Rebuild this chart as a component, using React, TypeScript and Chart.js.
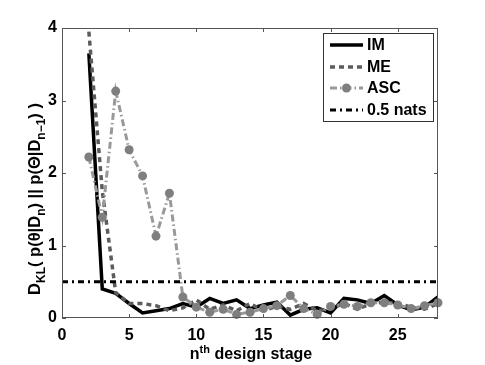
import React, { useEffect, useRef } from "react";
import { Chart, registerables } from "chart.js";

Chart.register(...registerables);

const stages = [2, 3, 4, 5, 6, 7, 8, 9, 10, 11, 12, 13, 14, 15, 16, 17, 18, 19, 20, 21, 22, 23, 24, 25, 26, 27, 28];
const imValues = [3.65, 0.4, 0.34, 0.2, 0.07, 0.1, 0.13, 0.2, 0.15, 0.27, 0.2, 0.25, 0.13, 0.18, 0.22, 0.04, 0.12, 0.14, 0.07, 0.27, 0.25, 0.2, 0.31, 0.18, 0.11, 0.15, 0.29];
const meValues = [3.95, 1.75, 0.35, 0.2, 0.2, 0.17, 0.1, 0.14, 0.25, 0.12, 0.18, 0.1, 0.2, 0.1, 0.16, 0.12, 0.2, 0.1, 0.13, 0.2, 0.12, 0.2, 0.22, 0.2, 0.15, 0.12, 0.2];
const ascValues = [2.22, 1.39, 3.13, 2.32, 1.96, 1.13, 1.72, 0.29, 0.15, 0.08, 0.12, 0.05, 0.08, 0.13, 0.17, 0.31, 0.13, 0.05, 0.16, 0.19, 0.16, 0.21, 0.21, 0.18, 0.13, 0.17, 0.21];
const thresholdX = [0, 28];
const thresholdY = [0.5, 0.5];
const xTicks = [0, 5, 10, 15, 20, 25];
const yTicks = [0, 1, 2, 3, 4];
const legendLabels = ["IM", "ME", "ASC", "0.5 nats"];

const FONT = '"Liberation Sans", Arial, Helvetica, sans-serif';
const ME_COLOR = "#5c5c5c";
const ASC_COLOR = "#999999";
const ASC_MARK = "#7f7f7f";

type Seg = { t: string; sub?: boolean; sup?: boolean };

function drawRich(ctx: CanvasRenderingContext2D, segs: Seg[], x: number, y: number, size: number) {
  const base = `bold ${size}px ${FONT}`;
  const small = `bold ${Math.round(size * 0.7)}px ${FONT}`;
  let w = 0;
  for (const s of segs) {
    ctx.font = s.sub || s.sup ? small : base;
    w += ctx.measureText(s.t).width;
  }
  let cx = x - w / 2;
  ctx.textAlign = "left";
  ctx.textBaseline = "alphabetic";
  for (const s of segs) {
    ctx.font = s.sub || s.sup ? small : base;
    const dy = s.sub ? size * 0.3 : s.sup ? -size * 0.4 : 0;
    ctx.fillText(s.t, cx, y + dy);
    cx += ctx.measureText(s.t).width;
  }
}

const decorPlugin = {
  id: "decor",
  afterDraw(chart: any) {
    const ctx: CanvasRenderingContext2D = chart.ctx;
    const { left, right, top, bottom } = chart.chartArea;
    const xs = chart.scales.x;
    const ys = chart.scales.y;
    ctx.save();
    // frame
    ctx.strokeStyle = "#555";
    ctx.lineWidth = 1;
    ctx.setLineDash([]);
    ctx.strokeRect(left + 0.5, top + 0.5, right - left - 1, bottom - top - 1);
    // inward ticks
    ctx.beginPath();
    for (const v of xTicks) {
      const px = Math.round(xs.getPixelForValue(v)) + 0.5;
      ctx.moveTo(px, bottom);
      ctx.lineTo(px, bottom - 4);
      ctx.moveTo(px, top);
      ctx.lineTo(px, top + 4);
    }
    for (const v of yTicks) {
      const py = Math.round(ys.getPixelForValue(v)) + 0.5;
      ctx.moveTo(left, py);
      ctx.lineTo(left + 4, py);
      ctx.moveTo(right, py);
      ctx.lineTo(right - 4, py);
    }
    ctx.stroke();

    ctx.fillStyle = "#000";
    // x title
    drawRich(ctx, [{ t: "n" }, { t: "th", sup: true }, { t: " design stage" }], (left + right) / 2 + 1, 359, 16);
    // y title
    ctx.save();
    ctx.translate(40, (top + bottom) / 2 + 26);
    ctx.rotate(-Math.PI / 2);
    drawRich(
      ctx,
      [
        { t: "D" },
        { t: "KL", sub: true },
        { t: "( p(θ|D" },
        { t: "n", sub: true },
        { t: ") || p(Θ|D" },
        { t: "n−1", sub: true },
        { t: ") )" },
      ],
      0,
      0,
      16.5
    );
    ctx.restore();

    // legend
    const bx = 323.5, by = 33.5, bw = 110, bh = 88;
    ctx.fillStyle = "#fff";
    ctx.fillRect(bx, by, bw, bh);
    ctx.strokeStyle = "#333";
    ctx.lineWidth = 1;
    ctx.strokeRect(bx, by, bw, bh);
    const rows = [45, 67, 88, 110];
    const styles = [
      { color: "#000", width: 3.5, dash: [] as number[], marker: false },
      { color: ME_COLOR, width: 3.5, dash: [5, 4], marker: false },
      { color: ASC_COLOR, width: 3, dash: [7, 3, 1.5, 3], marker: true },
      { color: "#000", width: 3, dash: [6, 4, 2, 4], marker: false },
    ];
    legendLabels.forEach((label, i) => {
      const st = styles[i];
      const y = rows[i];
      ctx.strokeStyle = st.color;
      ctx.lineWidth = st.width;
      ctx.setLineDash(st.dash);
      ctx.beginPath();
      ctx.moveTo(330, y);
      ctx.lineTo(363, y);
      ctx.stroke();
      ctx.setLineDash([]);
      if (st.marker) {
        ctx.fillStyle = ASC_MARK;
        ctx.beginPath();
        ctx.arc(346.5, y, 4.5, 0, Math.PI * 2);
        ctx.fill();
      }
      ctx.fillStyle = "#000";
      ctx.font = `bold 16px ${FONT}`;
      ctx.textAlign = "left";
      ctx.textBaseline = "middle";
      ctx.fillText(label, 367, y + 1);
    });
    ctx.restore();
  },
};

export default function App() {
  const ref = useRef<HTMLCanvasElement | null>(null);
  useEffect(() => {
    document.body.style.margin = "0";
    const canvas = ref.current;
    if (!canvas) return;
    const toPts = (vals: number[]) => stages.map((x, i) => ({ x, y: vals[i] }));
    const chart = new Chart(canvas, {
      type: "line",
      data: {
        datasets: [
          {
            label: legendLabels[0],
            data: toPts(imValues),
            borderColor: "#000",
            borderWidth: 3.5,
            pointRadius: 0,
            tension: 0,
            order: 3,
          },
          {
            label: legendLabels[1],
            data: toPts(meValues),
            borderColor: ME_COLOR,
            borderWidth: 3.5,
            borderDash: [5, 4],
            pointRadius: 0,
            tension: 0,
            order: 2,
          },
          {
            label: legendLabels[2],
            data: toPts(ascValues),
            borderColor: ASC_COLOR,
            borderWidth: 3,
            borderDash: [7, 3, 1.5, 3],
            pointRadius: 4.5,
            pointBackgroundColor: ASC_MARK,
            pointBorderWidth: 0,
            tension: 0,
            order: 1,
            clip: 6,
          },
          {
            label: legendLabels[3],
            data: thresholdX.map((x, i) => ({ x, y: thresholdY[i] })),
            borderColor: "#000",
            borderWidth: 3,
            borderDash: [6, 4, 2, 4],
            pointRadius: 0,
            order: 0,
          },
        ] as any,
      },
      options: {
        responsive: false,
        animation: false,
        layout: { padding: { top: 28, right: 47, left: 0, bottom: 0 } },
        plugins: { legend: { display: false }, tooltip: { enabled: false } },
        scales: {
          x: {
            type: "linear",
            min: 0,
            max: 28,
            grid: { display: false, drawTicks: false },
            border: { display: false },
            afterBuildTicks: (s: any) => {
              s.ticks = xTicks.map((v) => ({ value: v }));
            },
            afterFit: (s: any) => {
              s.height = 47;
            },
            ticks: {
              color: "#000",
              padding: 8,
              maxRotation: 0,
              font: { family: FONT, size: 16, weight: "bold" },
            },
          },
          y: {
            type: "linear",
            min: 0,
            max: 4,
            grid: { display: false, drawTicks: false },
            border: { display: false },
            afterBuildTicks: (s: any) => {
              s.ticks = yTicks.map((v) => ({ value: v }));
            },
            afterFit: (s: any) => {
              s.width = 62;
            },
            ticks: {
              color: "#000",
              padding: 5,
              font: { family: FONT, size: 16, weight: "bold" },
            },
          },
        },
      } as any,
      plugins: [decorPlugin],
    });
    return () => chart.destroy();
  }, []);
  return (
    <div style={{ width: 485, height: 365 }}>
      <canvas ref={ref} width={485} height={365} style={{ display: "block" }} />
    </div>
  );
}
